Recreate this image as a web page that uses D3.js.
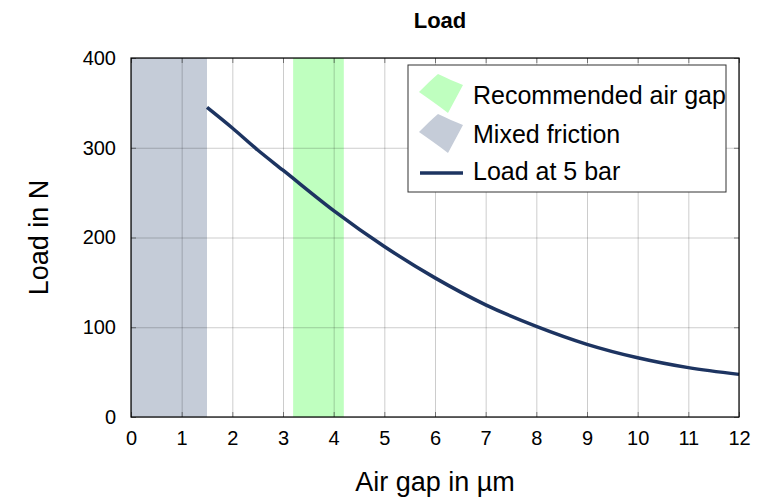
<!DOCTYPE html>
<html>
<head>
<meta charset="utf-8">
<script src="https://cdn.jsdelivr.net/npm/d3@7"></script>
<style>
  body { margin: 0; background: #fff; }
  svg { font-family: "Liberation Sans", Arial, Helvetica, sans-serif; }
</style>
</head>
<body>
<div id="chart"></div>
<script>
// data
const airGap = [1.5, 2, 2.5, 3, 4, 5, 6, 7, 8, 9, 10, 11, 12];
const load = [345, 322, 297.5, 275, 230, 190, 155, 125, 101, 81, 66, 55, 47.5];
const xTicks = [0, 1, 2, 3, 4, 5, 6, 7, 8, 9, 10, 11, 12];
const yTicks = [0, 100, 200, 300, 400];
const mixedFriction = [0, 1.5];
const recommendedGap = [3.2, 4.2];
const legendLabels = ["Recommended air gap", "Mixed friction", "Load at 5 bar"];

const w = 772, h = 500;
const margin = {top: 58, right: 33, bottom: 83, left: 131};
const width = w - margin.left - margin.right,
      height = h - margin.top - margin.bottom;

const colGreen = "#bfffbf";
const colGray = "#c5ccd8";
const colLine = "#1d3461";

const svg = d3.select("#chart").append("svg")
    .attr("width", w)
    .attr("height", h);

const g = svg.append("g")
    .attr("transform", "translate(" + margin.left + "," + margin.top + ")");

const x = d3.scaleLinear().domain([0, 12]).range([0, width]);
const y = d3.scaleLinear().domain([0, 400]).range([height, 0]);

// bands
g.append("rect")
    .attr("x", x(mixedFriction[0]))
    .attr("y", 0)
    .attr("width", x(mixedFriction[1]) - x(mixedFriction[0]))
    .attr("height", height)
    .attr("fill", colGray);

g.append("rect")
    .attr("x", x(recommendedGap[0]))
    .attr("y", 0)
    .attr("width", x(recommendedGap[1]) - x(recommendedGap[0]))
    .attr("height", height)
    .attr("fill", colGreen);

// grid
g.append("g").attr("class", "grid")
    .attr("transform", "translate(0," + height + ")")
    .call(d3.axisBottom(x).tickValues(xTicks).tickSize(-height).tickFormat(""))
    .call(s => s.select(".domain").remove())
    .call(s => s.selectAll("line").attr("stroke", "#000").attr("stroke-opacity", 0.2));

g.append("g").attr("class", "grid")
    .call(d3.axisLeft(y).tickValues(yTicks).tickSize(-width).tickFormat(""))
    .call(s => s.select(".domain").remove())
    .call(s => s.selectAll("line").attr("stroke", "#000").attr("stroke-opacity", 0.2));

// inner ticks on all four sides
const tickLen = 5;
const tickStyle = s => {
    s.select(".domain").remove();
    s.selectAll("line").attr("stroke", "#000").attr("stroke-opacity", 0.45);
};
g.append("g").attr("transform", "translate(0," + height + ")")
    .call(d3.axisBottom(x).tickValues(xTicks).tickSize(-tickLen).tickFormat(""))
    .call(tickStyle);
g.append("g")
    .call(d3.axisTop(x).tickValues(xTicks).tickSize(-tickLen).tickFormat(""))
    .call(tickStyle);
g.append("g")
    .call(d3.axisLeft(y).tickValues(yTicks).tickSize(-tickLen).tickFormat(""))
    .call(tickStyle);
g.append("g").attr("transform", "translate(" + width + ",0)")
    .call(d3.axisRight(y).tickValues(yTicks).tickSize(-tickLen).tickFormat(""))
    .call(tickStyle);

// tick labels
const labelStyle = s => {
    s.select(".domain").remove();
    s.selectAll("text").attr("font-size", "20px").attr("fill", "#000")
        .attr("font-family", "Liberation Sans, Arial, sans-serif");
};
g.append("g")
    .attr("transform", "translate(0," + height + ")")
    .call(d3.axisBottom(x).tickValues(xTicks).tickSize(0).tickPadding(14).tickFormat(d3.format("d")))
    .call(labelStyle);

g.append("g")
    .call(d3.axisLeft(y).tickValues(yTicks).tickSize(0).tickPadding(15).tickFormat(d3.format("d")))
    .call(labelStyle);

// curve
const line = d3.line()
    .x((d, i) => x(airGap[i]))
    .y(d => y(d))
    .curve(d3.curveMonotoneX);

g.append("path")
    .datum(load)
    .attr("d", line)
    .attr("fill", "none")
    .attr("stroke", colLine)
    .attr("stroke-width", 3.5);

// frame
g.append("rect")
    .attr("width", width)
    .attr("height", height)
    .attr("fill", "none")
    .attr("stroke", "#000")
    .attr("stroke-width", 1.2);

// titles
svg.append("text")
    .attr("x", 440)
    .attr("y", 28)
    .attr("text-anchor", "middle")
    .attr("font-size", "22px")
    .attr("font-weight", "bold")
    .text("Load");

svg.append("text")
    .attr("x", margin.left + width / 2)
    .attr("y", 491)
    .attr("text-anchor", "middle")
    .attr("font-size", "27px")
    .text("Air gap in µm");

svg.append("text")
    .attr("transform", "translate(48," + (margin.top + height / 2) + ") rotate(-90)")
    .attr("text-anchor", "middle")
    .attr("font-size", "27px")
    .text("Load in N");

// legend
const legend = svg.append("g").attr("transform", "translate(408,65)");
legend.append("rect")
    .attr("width", 318)
    .attr("height", 127)
    .attr("fill", "#fff")
    .attr("stroke", "#333")
    .attr("stroke-width", 1);

const patch = "M-22,-1 C-15,-8 -9,-14 -3,-19 C6,-15 14,-11 22,-8 C17,1 12,11 7,20 C-2,13 -12,6 -22,-1 Z";
const rowsY = [30, 69, 106];

legend.append("path")
    .attr("transform", "translate(33," + (rowsY[0] - 2) + ")")
    .attr("d", patch)
    .attr("fill", colGreen);
legend.append("path")
    .attr("transform", "translate(33," + (rowsY[1] - 1) + ")")
    .attr("d", patch)
    .attr("fill", colGray);
legend.append("line")
    .attr("x1", 12).attr("x2", 55)
    .attr("y1", rowsY[2] + 2).attr("y2", rowsY[2] + 2)
    .attr("stroke", colLine)
    .attr("stroke-width", 3.5);

legend.selectAll("text.lbl")
    .data(legendLabels)
    .enter().append("text")
    .attr("class", "lbl")
    .attr("x", 65)
    .attr("y", (d, i) => rowsY[i])
    .attr("dy", "0.35em")
    .attr("font-size", "25px")
    .text(d => d);
</script>
</body>
</html>
